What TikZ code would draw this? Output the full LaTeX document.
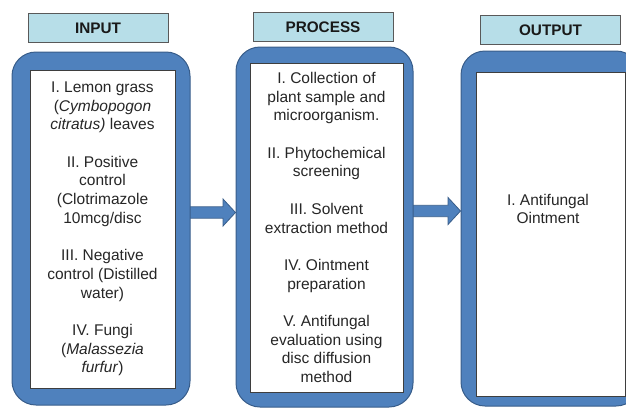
\documentclass[tikz,border=0pt]{standalone}
\usepackage{fontspec}
\setmainfont{Liberation Sans}
\usetikzlibrary{positioning,backgrounds}
\definecolor{boxblue}{RGB}{79,129,189}
\definecolor{boxedge}{RGB}{56,93,138}
\definecolor{headfill}{RGB}{183,222,232}
\definecolor{headedge}{RGB}{89,89,89}
\definecolor{textgray}{RGB}{38,38,38}

\begin{document}
\begin{tikzpicture}[x=1pt,y=-1pt,
  header/.style={draw=headedge, line width=1pt, fill=headfill, rectangle, minimum width=140pt, minimum height=29pt, font=\fontsize{15.3}{18}\selectfont\bfseries, text=black!90},
  outerbox/.style={draw=boxedge, line width=1pt, fill=boxblue, rectangle, rounded corners=24pt},
  innerbox/.style={draw=headedge!70!black, line width=0.8pt, fill=white, rectangle, align=center, font=\fontsize{15.5}{18.7}\selectfont, text=textgray},
  fatarrow/.style={draw=boxedge, line width=0.8pt, fill=boxblue}]
\useasboundingbox (0,0) rectangle (626,407);

% column headers
\node[header] (inhead) at (98,28) {INPUT};
\node[header] (prochead) at (323,27) {PROCESS};
\node[header] (outhead) at (550.5,30) {OUTPUT};

% blue frames
\node[outerbox, minimum width=178pt, minimum height=353pt] (inout) at (101,228.5) {};
\node[outerbox, minimum width=177pt, minimum height=360pt] (procout) at (324.5,227) {};
\node[outerbox, minimum width=179pt, minimum height=355pt] (outout) at (550.5,228.5) {};

% white panels
\node[innerbox, minimum width=145pt, minimum height=318pt] (inbox) at (102.5,229) {I. Lemon grass\\(\textit{Cymbopogon}\\\textit{citratus)} leaves\\[18.7pt]
  II. Positive\\control\\(Clotrimazole\\10mcg/disc\\[18.7pt]
  III. Negative\\control (Distilled\\water)\\[18.7pt]
  IV. Fungi\\(\textit{Malassezia}\\\textit{furfur})};
\node[innerbox, minimum width=153pt, minimum height=329pt] (procbox) at (326.5,227.5) {I. Collection of\\plant sample and\\microorganism.\\[18.7pt]
  II. Phytochemical\\screening\\[18.7pt]
  III. Solvent\\extraction method\\[18.7pt]
  IV. Ointment\\preparation\\[18.7pt]
  V. Antifungal\\evaluation using\\disc diffusion\\method};
\node[innerbox, minimum width=149pt, minimum height=324pt] (outbox) at (550.5,234) {};
\node[innerbox, draw=none, fill=none] (outtext) at (548,209) {I. Antifungal\\Ointment};

% block arrows between the frames
\begin{pgfonlayer}{background}
\foreach \from/\to in {inout/procout, procout/outout}{
  \coordinate (tail) at ([xshift=-4pt,yshift=16pt]\from.east);
  \coordinate (tip) at (\to.west |- tail);
  \draw[fatarrow] ([yshift=5.7pt]tail) -- ([xshift=-12.5pt,yshift=5.7pt]tip)
    -- ([xshift=-12.5pt,yshift=13.5pt]tip) -- (tip)
    -- ([xshift=-12.5pt,yshift=-13.5pt]tip) -- ([xshift=-12.5pt,yshift=-5.7pt]tip)
    -- ([yshift=-5.7pt]tail) -- cycle;
}
\end{pgfonlayer}
\end{tikzpicture}
\end{document}
